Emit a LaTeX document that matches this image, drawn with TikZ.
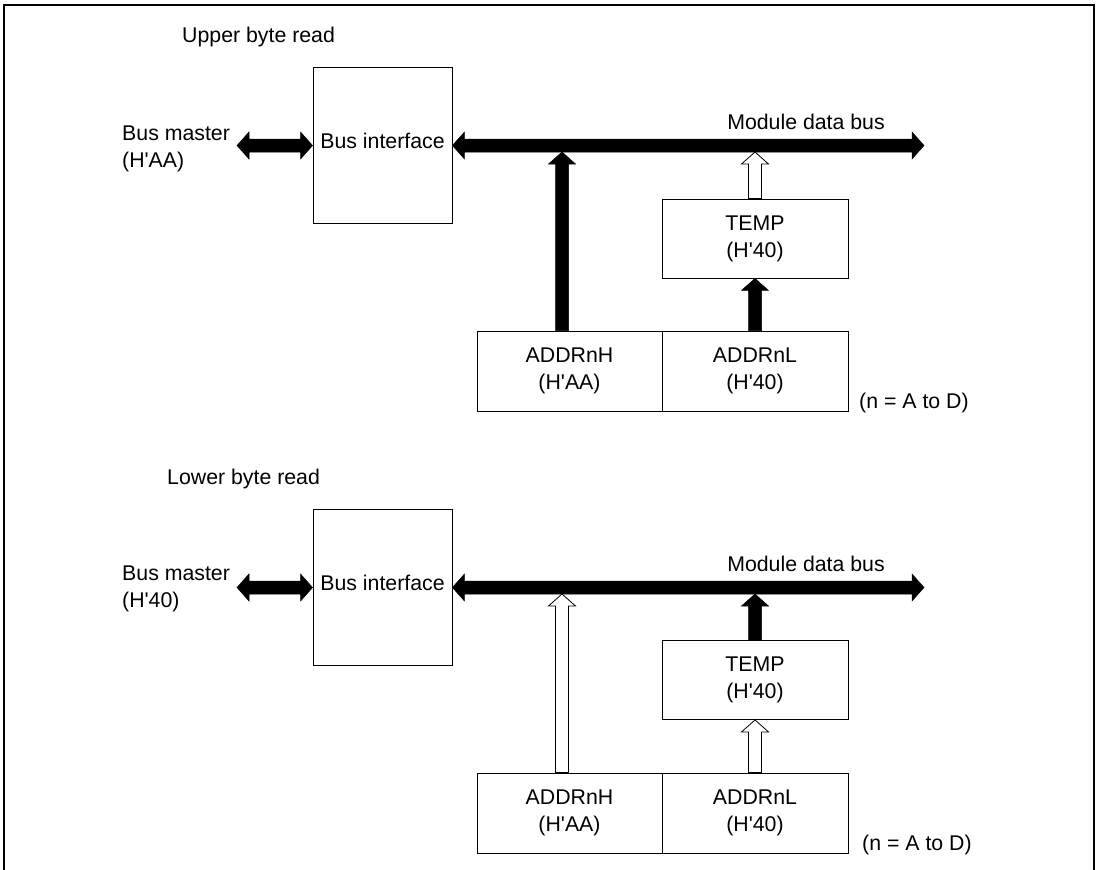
\documentclass[tikz,border=0pt]{standalone}
\usepackage{fontspec}
\setmainfont{Liberation Sans}
\usetikzlibrary{calc}
\newcommand\q{\textquotesingle}
\tikzset{
  box/.style={draw, line width=0.9pt, inner sep=0pt, align=center},
  txt/.style={inner sep=0pt, align=left},
  blk/.style={fill=black, draw=black, line width=0.5pt, line join=miter},
  hol/.style={fill=white, draw=black, line width=0.8pt, line join=miter},
  frame/.style={draw=black, line width=1.4pt}
}
% vertical block arrow: #1 style, #2 start coordinate, #3 coordinate giving tip height
\newcommand\blockup[3]{\path[#1] ($(#2)+(-6.5,0)$) -- ($(#2 |- #3)+(-6.5,12)$) -- ($(#2 |- #3)+(-13.5,12)$) -- (#2 |- #3) -- ($(#2 |- #3)+(13.5,12)$) -- ($(#2 |- #3)+(6.5,12)$) -- ($(#2)+(6.5,0)$) -- cycle;}
% horizontal double block arrow: #1 style, #2 left tip, #3 right tip
\newcommand\blockboth[3]{\path[#1] (#2) -- ($(#2)+(12,-13.5)$) -- ($(#2)+(12,-6.5)$) -- ($(#3)+(-12,-6.5)$) -- ($(#3)+(-12,-13.5)$) -- (#3) -- ($(#3)+(-12,13.5)$) -- ($(#3)+(-12,6.5)$) -- ($(#2)+(12,6.5)$) -- ($(#2)+(12,13.5)$) -- cycle;}
\begin{document}
\begin{tikzpicture}[x=1pt, y=-1pt, font=\fontsize{21.3}{27}\selectfont]
\useasboundingbox (0,0) rectangle (1098,870);
\path[frame] (4,870) -- (4,5) -- (1094,5) -- (1094,870);

% ---------- Upper byte read ----------
\node[txt, anchor=west] (title1) at (182,37) {Upper byte read};
\node[txt, anchor=west] (bm1t) at (122,149) {Bus master\\(H\q AA)};
\node[box, minimum width=139pt, minimum height=156pt, text depth=10pt] (bi1) at (382.5,145.5) {Bus interface};
\node[box, minimum width=186pt, minimum height=79pt] (temp1) at (755,238.5) {TEMP\\(H\q 40)};
\node[box, minimum width=185pt, minimum height=80pt] (ah1) at (569.5,371) {ADDRnH\\(H\q AA)};
\node[box, minimum width=186pt, minimum height=80pt] (al1) at (755,371) {ADDRnL\\(H\q 40)};
\node[txt] (mdb1) at (806,122) {Module data bus};
\node[txt, anchor=west] (n1) at (859,403) {(n = A to D)};

\coordinate (bm1) at (237,145.5);
\coordinate (br1) at (924,145.5);
\coordinate (bb1) at (600,152);
\coordinate (h1) at ($(ah1.north)+(-7.5,0)$);
\blockboth{blk}{bm1}{bi1.west}
\blockboth{blk}{bi1.east}{br1}
\blockup{blk}{h1}{bb1}
\blockup{hol}{temp1.north}{bb1}
\blockup{blk}{al1.north}{temp1.south}

% ---------- Lower byte read ----------
\node[txt, anchor=west] (title2) at (167,479) {Lower byte read};
\node[txt, anchor=west] (bm2t) at (122,589) {Bus master\\(H\q 40)};
\node[box, minimum width=139pt, minimum height=156pt, text depth=10pt] (bi2) at (382.5,587.5) {Bus interface};
\node[box, minimum width=186pt, minimum height=79pt] (temp2) at (755,680) {TEMP\\(H\q 40)};
\node[box, minimum width=185pt, minimum height=80pt] (ah2) at (569.5,813) {ADDRnH\\(H\q AA)};
\node[box, minimum width=186pt, minimum height=80pt] (al2) at (755,813) {ADDRnL\\(H\q 40)};
\node[txt] (mdb2) at (806,564) {Module data bus};
\node[txt, anchor=west] (n2) at (862,845) {(n = A to D)};

\coordinate (bm2) at (237,587.5);
\coordinate (br2) at (924,587.5);
\coordinate (bb2) at (600,594);
\coordinate (h2) at ($(ah2.north)+(-7.5,0)$);
\blockboth{blk}{bm2}{bi2.west}
\blockboth{blk}{bi2.east}{br2}
\blockup{hol}{h2}{bb2}
\blockup{blk}{temp2.north}{bb2}
\blockup{hol}{al2.north}{temp2.south}
\end{tikzpicture}
\end{document}
